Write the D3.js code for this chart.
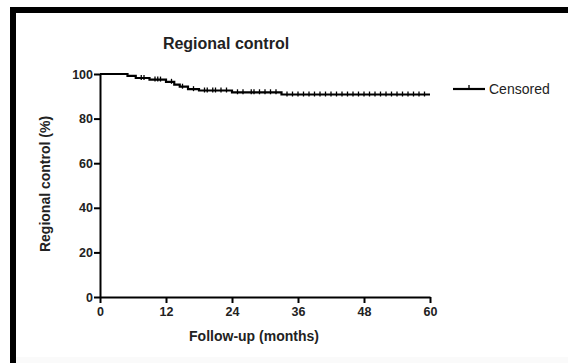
<!DOCTYPE html>
<html>
<head>
<meta charset="utf-8">
<script src="https://cdn.jsdelivr.net/npm/d3@7"></script>
<style>
  body { margin: 0; background: #fff; }
  svg { display: block; font-family: "Liberation Sans", Arial, sans-serif; }
</style>
</head>
<body>
<svg id="chart" width="568" height="363"></svg>
<script>
// Kaplan-Meier steps (month, percent)
var stepTimes  = [0, 5, 6.5, 9, 12, 13.5, 14.5, 16, 18, 24, 33];
var stepValues = [100, 99.2, 98.2, 97.5, 96.5, 95.2, 94.3, 93.2, 92.6, 91.8, 90.8];
var censoredTimes = [7.5, 8, 10, 10.5, 11, 13, 15, 17, 19, 19.5, 20.5, 21, 22, 23, 25, 26, 27.5, 28, 29, 30, 31, 32,
                     34, 35, 36, 37, 38, 39, 40, 41, 42, 43, 44, 45, 46, 47, 48, 49, 50, 51, 52, 53, 54, 55, 56, 57, 58, 59];
var endTime = 60;
var xTicks = [0, 12, 24, 36, 48, 60];
var yTicks = [0, 20, 40, 60, 80, 100];

var svg = d3.select("#chart");

// outer frame (left and top thick lines)
svg.append("path")
    .attr("d", "M13,363 L13,10 L568,10")
    .style("fill", "none")
    .style("stroke", "#000")
    .style("stroke-width", 6);
svg.append("rect")
    .attr("x", 16).attr("y", 357).attr("width", 552).attr("height", 6)
    .style("fill", "#fafafa");

var x = d3.scaleLinear().domain([0, 60]).range([100, 430]);
var y = d3.scaleLinear().domain([0, 100]).range([297, 74]);

// axes
var xAxis = d3.axisBottom(x).tickValues(xTicks).tickSize(6).tickSizeOuter(0).tickPadding(3);
var yAxis = d3.axisLeft(y).tickValues(yTicks).tickSize(6).tickSizeOuter(0).tickPadding(1);

var gx = svg.append("g").attr("transform", "translate(0," + 297 + ")").call(xAxis);
var gy = svg.append("g").attr("transform", "translate(" + 100 + ",0)").call(yAxis);

[gx, gy].forEach(function(g) {
    g.select(".domain").style("stroke", "#000").style("stroke-width", 2);
    g.selectAll(".tick line").style("stroke", "#000").style("stroke-width", 2);
    g.selectAll(".tick text")
        .style("font-size", "12.5px")
        .style("font-weight", "bold")
        .style("fill", "#222");
});
gx.selectAll(".tick text").attr("dy", "0.8em");

// step curve
var pts = stepTimes.map(function(t, i) { return [t, stepValues[i]]; });
pts.push([endTime, stepValues[stepValues.length - 1]]);

var line = d3.line()
    .x(function(d) { return x(d[0]); })
    .y(function(d) { return y(d[1]); })
    .curve(d3.curveStepAfter);

svg.append("path")
    .datum(pts)
    .attr("d", line)
    .style("fill", "none")
    .style("stroke", "#000")
    .style("stroke-width", 2.2);

// censored marks
function survAt(t) {
    var v = stepValues[0];
    for (var i = 0; i < stepTimes.length; i++) {
        if (stepTimes[i] <= t) v = stepValues[i];
    }
    return v;
}

svg.append("g").selectAll("line")
    .data(censoredTimes)
    .enter()
    .append("line")
    .attr("x1", function(d) { return x(d); })
    .attr("x2", function(d) { return x(d); })
    .attr("y1", function(d) { return y(survAt(d)) - 3; })
    .attr("y2", function(d) { return y(survAt(d)) + 2; })
    .style("stroke", "#000")
    .style("stroke-width", 1.3);

// title and axis labels
svg.append("text")
    .attr("x", 226).attr("y", 49)
    .attr("text-anchor", "middle")
    .style("font-size", "16px")
    .style("font-weight", "bold")
    .style("fill", "#222")
    .text("Regional control");

svg.append("text")
    .attr("x", 254).attr("y", 341)
    .attr("text-anchor", "middle")
    .style("font-size", "14px")
    .style("font-weight", "bold")
    .style("fill", "#222")
    .text("Follow-up (months)");

svg.append("text")
    .attr("transform", "translate(50,184) rotate(-90)")
    .attr("text-anchor", "middle")
    .style("font-size", "14px")
    .style("font-weight", "bold")
    .style("fill", "#222")
    .text("Regional control (%)");

// legend
var lg = svg.append("g").attr("transform", "translate(453,89)");
lg.append("line").attr("x1", 0).attr("x2", 32).attr("y1", 0).attr("y2", 0)
    .style("stroke", "#000").style("stroke-width", 2.2);
lg.append("line").attr("x1", 16).attr("x2", 16).attr("y1", -4).attr("y2", 1)
    .style("stroke", "#000").style("stroke-width", 1.3);
lg.append("text")
    .attr("x", 36).attr("y", 0).attr("dy", "0.35em")
    .style("font-size", "14px")
    .style("fill", "#222")
    .text("Censored");
</script>
</body>
</html>
